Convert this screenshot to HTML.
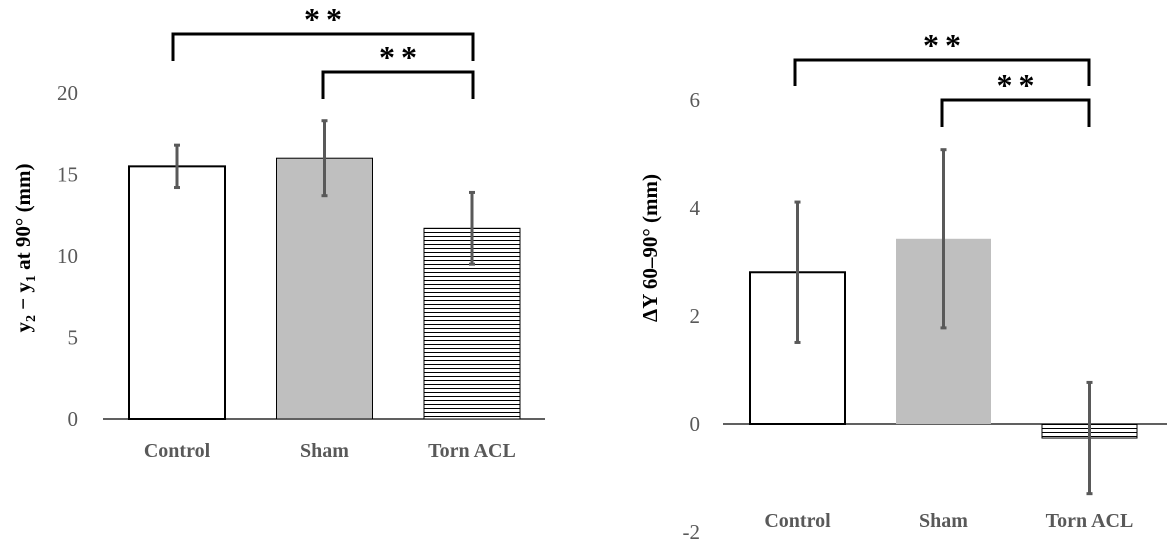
<!DOCTYPE html>
<html><head><meta charset="utf-8"><style>
html,body{margin:0;padding:0;background:#fff;width:1167px;height:550px;overflow:hidden}
svg{display:block;font-family:"Liberation Serif",serif}
</style></head><body>
<svg id="c" width="1167" height="550">
<defs><pattern id="hz" width="6" height="4" patternUnits="userSpaceOnUse"><rect width="6" height="4" fill="#fff"/><line x1="0" y1="0.5" x2="6" y2="0.5" stroke="#000" stroke-width="1"/></pattern></defs>
</svg>
<script>
const categories=["Control","Sham","Torn ACL"];
const leftValues=[15.5,16.0,11.7];
const leftErrors=[1.3,2.3,2.2];
const leftTicks=[0,5,10,15,20];
const rightValues=[2.81,3.43,-0.26];
const rightErrors=[1.3,1.65,1.03];
const rightTicks=[-2,0,2,4,6];
const NS="http://www.w3.org/2000/svg";
const svg=document.getElementById('c');
function el(t,a,p){const e=document.createElementNS(NS,t);for(const k in a)e.setAttribute(k,a[k]);(p||svg).appendChild(e);return e;}
const fills=[{f:"#fff",s:"#000",w:2},{f:"#bfbfbf",s:"#000",w:1},{f:"url(#hz)",s:"#000",w:1}];
function chart(o){
  const g=el('g',{});
  
  
  const y=v=>o.zero-v*o.scale;
  o.ticks.forEach(t=>{const tx=el('text',{x:o.tickX,y:y(t)+7,'text-anchor':'end','font-size':21,fill:'#595959'},g);tx.textContent=t;
    
    });
  const ax=el('line',{x1:o.axX1,x2:o.axX2,y1:o.zero,y2:o.zero,stroke:'#000','stroke-width':1.3},g);
  
  
  categories.forEach((c,i)=>{
    const cx=o.c0+i*o.step, v=o.values[i], e=o.errors[i];
    if(i===1&&o.noShamStroke){fills[1].s='none';}else if(i===1){fills[1].s='#000';}
    const r=el('rect',{x:cx-o.bw/2,y:Math.min(y(v),o.zero),width:o.bw,height:Math.abs(y(v)-o.zero),fill:fills[i].f,stroke:fills[i].s,'stroke-width':fills[i].w},g);
    
    
    const eg=el('g',{stroke:'#595959','stroke-width':3},g);
    
    
    el('line',{x1:cx,x2:cx,y1:y(v+e),y2:y(v-e)},eg);
    el('line',{x1:cx-3,x2:cx+3,y1:y(v+e),y2:y(v+e)},eg);
    el('line',{x1:cx-3,x2:cx+3,y1:y(v-e),y2:y(v-e)},eg);
    const t=el('text',{x:cx,y:o.labY,'text-anchor':'middle','font-size':20,'font-weight':'bold',fill:'#595959'},g);t.textContent=c;
    
    
  });
  o.brackets.forEach(b=>{
    const p=el('path',{d:`M${b[0]},${b[3]}V${b[2]}H${b[1]}V${b[3]}`,fill:'none',stroke:'#000','stroke-width':3},g);
    
    
    const s=el('text',{x:(b[0]+b[1])/2+3,y:b[2]-4,'text-anchor':'middle','font-size':32,'font-weight':'bold','letter-spacing':'6'},g);s.textContent='**';
    
    
  });
  const tt=el('text',{transform:`translate(${o.titleX},${o.titleY}) rotate(-90)`,'text-anchor':'middle','font-size':21,'font-weight':'bold','xml:space':'preserve'},g);
  tt.innerHTML=o.title;
  
  
}
chart({name:'left-chart',zero:419,scale:16.3,tickX:78,axX1:103,axX2:545,c0:177,step:147.5,bw:96,values:leftValues,errors:leftErrors,ticks:leftTicks,labY:457,
  brackets:[[173,473,34,61],[323,473,72,99]],titleX:30,titleY:248,
  title:'y<tspan font-size="14" dy="5">2</tspan><tspan dy="-5"> − y</tspan><tspan font-size="14" dy="5">1</tspan><tspan dy="-5"> at 90°   (mm)</tspan>'});
chart({name:'right-chart',zero:424,scale:54,tickX:700,axX1:723,axX2:1167,c0:797.5,step:146,bw:95,values:rightValues,errors:rightErrors,ticks:rightTicks,labY:527,noShamStroke:true,
  brackets:[[795,1089,60,86],[942,1089,100,127]],titleX:657,titleY:248,title:'ΔY 60–90°   (mm)'});
</script>
</body></html>
